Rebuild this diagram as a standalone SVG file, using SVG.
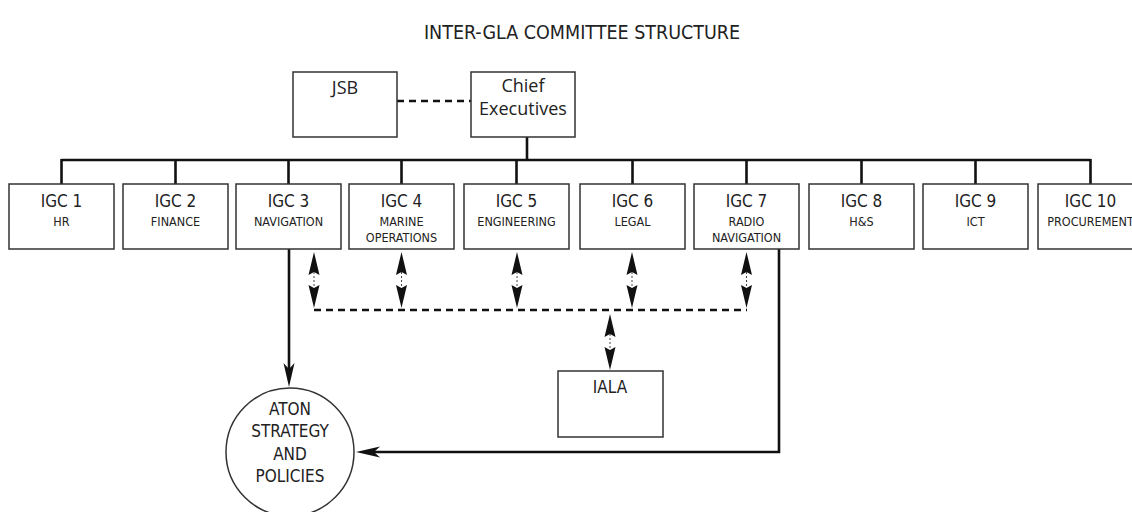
<svg xmlns="http://www.w3.org/2000/svg" width="1132" height="512" viewBox="0 0 1132 512">
<style>
.box{fill:#fff;stroke:#333;stroke-width:1.5}
.ln{fill:none;stroke:#111;stroke-width:2.6}
.dl{fill:none;stroke:#111;stroke-width:2.6;stroke-dasharray:7 5}
.sh{fill:none;stroke:#444;stroke-width:1;stroke-dasharray:2 2}
.hd{fill:#111}
.t{font-family:"DejaVu Sans Condensed","DejaVu Sans",sans-serif;font-stretch:condensed;fill:#222;text-anchor:middle}
.b{font-size:17px}
.s{font-size:12.5px}
.ti{font-size:19.5px}
.m{font-family:"Open Sans","Noto Sans",sans-serif;font-size:18px;fill:#222;text-anchor:middle}
</style>
<defs>
<marker id="ah" viewBox="0 0 24 12" refX="14" refY="6" markerWidth="24" markerHeight="12" markerUnits="userSpaceOnUse" orient="auto">
<path d="M0,0.5 L24,6 L0,11.5 L6,6 Z" fill="#111"/>
</marker>
<g id="dbl">
<path class="hd" d="M0,0 L5.5,23 L0,20 L-5.5,23 Z"/>
<path class="hd" d="M0,56 L5.5,33 L0,36 L-5.5,33 Z"/>
<line class="sh" x1="0" y1="20" x2="0" y2="36"/>
</g>
</defs>
<text class="t ti" x="582" y="39">INTER-GLA COMMITTEE STRUCTURE</text>

<g id="connectors">
<line class="dl" x1="397" y1="101" x2="471" y2="101"/>
<line class="ln" x1="527" y1="137" x2="527" y2="160"/>
<line class="ln" x1="61.5" y1="160" x2="1090.5" y2="160"/>
<line class="ln" x1="61.5" y1="159" x2="61.5" y2="184"/>
<line class="ln" x1="175.5" y1="159" x2="175.5" y2="184"/>
<line class="ln" x1="288.5" y1="159" x2="288.5" y2="184"/>
<line class="ln" x1="401.5" y1="159" x2="401.5" y2="184"/>
<line class="ln" x1="516.5" y1="159" x2="516.5" y2="184"/>
<line class="ln" x1="632.5" y1="159" x2="632.5" y2="184"/>
<line class="ln" x1="746.5" y1="159" x2="746.5" y2="184"/>
<line class="ln" x1="861.5" y1="159" x2="861.5" y2="184"/>
<line class="ln" x1="975.5" y1="159" x2="975.5" y2="184"/>
<line class="ln" x1="1090.5" y1="159" x2="1090.5" y2="184"/>
<line class="dl" x1="314" y1="310" x2="747" y2="310"/>
<use href="#dbl" x="314" y="252"/>
<use href="#dbl" x="401.5" y="252"/>
<use href="#dbl" x="517" y="252"/>
<use href="#dbl" x="632" y="252"/>
<use href="#dbl" x="746.5" y="252"/>
<use href="#dbl" x="610" y="314"/>
<path class="ln" d="M289,249 V377" marker-end="url(#ah)"/>
<path class="ln" d="M779,249 V452 H366" marker-end="url(#ah)"/>
</g>

<g id="jsb"><rect class="box" x="293" y="72" width="104" height="65"/><text class="m" x="345" y="94">JSB</text></g>
<g id="chief"><rect class="box" x="471" y="72" width="104" height="65"/><text class="m" x="523" y="92">Chief</text><text class="m" x="523" y="115">Executives</text></g>

<g id="igc1"><rect class="box" x="9" y="184" width="105" height="65"/><text class="t b" x="61.5" y="207">IGC 1</text><text class="t s" x="61.5" y="226">HR</text></g>
<g id="igc2"><rect class="box" x="123" y="184" width="105" height="65"/><text class="t b" x="175.5" y="207">IGC 2</text><text class="t s" x="175.5" y="226">FINANCE</text></g>
<g id="igc3"><rect class="box" x="236" y="184" width="105" height="65"/><text class="t b" x="288.5" y="207">IGC 3</text><text class="t s" x="288.5" y="226">NAVIGATION</text></g>
<g id="igc4"><rect class="box" x="349" y="184" width="105" height="65"/><text class="t b" x="401.5" y="207">IGC 4</text><text class="t s" x="401.5" y="226">MARINE</text><text class="t s" x="401.5" y="242">OPERATIONS</text></g>
<g id="igc5"><rect class="box" x="464" y="184" width="105" height="65"/><text class="t b" x="516.5" y="207">IGC 5</text><text class="t s" x="516.5" y="226">ENGINEERING</text></g>
<g id="igc6"><rect class="box" x="580" y="184" width="105" height="65"/><text class="t b" x="632.5" y="207">IGC 6</text><text class="t s" x="632.5" y="226">LEGAL</text></g>
<g id="igc7"><rect class="box" x="694" y="184" width="105" height="65"/><text class="t b" x="746.5" y="207">IGC 7</text><text class="t s" x="746.5" y="226">RADIO</text><text class="t s" x="746.5" y="242">NAVIGATION</text></g>
<g id="igc8"><rect class="box" x="809" y="184" width="105" height="65"/><text class="t b" x="861.5" y="207">IGC 8</text><text class="t s" x="861.5" y="226">H&amp;S</text></g>
<g id="igc9"><rect class="box" x="923" y="184" width="105" height="65"/><text class="t b" x="975.5" y="207">IGC 9</text><text class="t s" x="975.5" y="226">ICT</text></g>
<g id="igc10"><rect class="box" x="1038" y="184" width="105" height="65"/><text class="t b" x="1090.5" y="207">IGC 10</text><text class="t s" x="1090.5" y="226">PROCUREMENT</text></g>

<g id="iala"><rect class="box" x="558" y="371" width="105" height="66"/><text class="t b" x="610" y="393">IALA</text></g>
<g id="aton"><circle class="box" cx="290" cy="452" r="64"/><text class="t b" x="290" y="415">ATON</text><text class="t b" x="290" y="437">STRATEGY</text><text class="t b" x="290" y="460">AND</text><text class="t b" x="290" y="482">POLICIES</text></g>
</svg>
